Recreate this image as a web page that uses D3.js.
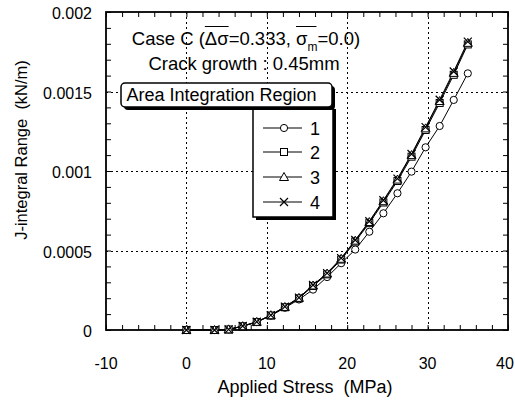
<!DOCTYPE html>
<html><head><meta charset="utf-8">
<script src="https://cdn.jsdelivr.net/npm/d3@7"></script>
<style>
body{margin:0;background:#fff}
svg text{font-family:"Liberation Sans",Arial,sans-serif;fill:#000;white-space:pre}
</style>
</head><body>
<svg id="chart" width="515" height="406"></svg>
<script>
// ---- data ----
const stress = [0, 3.5, 5.25, 7, 8.75, 10.5, 12.25, 14, 15.75, 17.5, 19.25, 21, 22.75, 24.5, 26.25, 28, 29.75, 31.5, 33.25, 35];
const region1 = [0, 0, 0.000004, 0.000024, 0.00005, 0.00009, 0.00014, 0.000192, 0.000254, 0.000333, 0.00042, 0.000506, 0.000618, 0.000734, 0.00086, 0.000996, 0.001149, 0.001283, 0.001447, 0.001614];
const region2 = [0, 0, 0.000003, 0.000023, 0.00005, 0.000091, 0.000143, 0.000199, 0.000277, 0.00035, 0.000443, 0.000556, 0.000672, 0.000802, 0.000937, 0.00109, 0.001258, 0.001428, 0.001605, 0.001796];
const region3 = [0, 0, 0.000004, 0.000024, 0.000051, 0.000093, 0.000145, 0.000202, 0.00028, 0.000355, 0.000448, 0.000562, 0.000679, 0.00081, 0.000946, 0.0011, 0.001268, 0.00144, 0.001617, 0.001806];
const region4 = [0, 0, 0.000004, 0.000025, 0.000052, 0.000094, 0.000147, 0.000204, 0.000283, 0.000358, 0.000452, 0.000566, 0.000684, 0.000816, 0.000952, 0.001107, 0.001276, 0.001448, 0.001626, 0.001814];
const legendLabels = ["1", "2", "3", "4"];
const markerTypes = ["circle", "square", "triangle", "cross"];
const xTickValues = [-10, 0, 10, 20, 30, 40];
const xTickLabels = ["-10", "0", "10", "20", "30", "40"];
const yTickValues = [0, 0.0005, 0.001, 0.0015, 0.002];
const yTickLabels = ["0", "0.0005", "0.001", "0.0015", "0.002"];
const xGrid = [0, 10, 20, 30];
const yGrid = [0.0005, 0.001, 0.0015];
const xLabel = "Applied Stress  (MPa)";
const yLabel = "J-integral Range  (kN/m)";
const legendTitle = "Area Integration Region";
const subtitle = "Crack growth : 0.45mm";

const seriesList = [region1, region2, region3, region4];

// ---- layout ----
const L = 106, R = 508, T = 12, B = 330;
const svg = d3.select("#chart");
const x = d3.scaleLinear().domain([-10, 40]).range([L, R]);
const y = d3.scaleLinear().domain([0, 0.002]).range([B, T]);

// grid
const grid = svg.append("g").attr("stroke", "#000").attr("stroke-width", 1).attr("stroke-dasharray", "2,3");
grid.selectAll(".gx").data(xGrid).enter().append("line")
  .attr("x1", d => Math.round(x(d)) + 0.5).attr("x2", d => Math.round(x(d)) + 0.5).attr("y1", T).attr("y2", B);
grid.selectAll(".gy").data(yGrid).enter().append("line")
  .attr("y1", d => Math.round(y(d)) + 0.5).attr("y2", d => Math.round(y(d)) + 0.5).attr("x1", L).attr("x2", R);

// minor/major ticks via axes (inside)
const xMinor = d3.range(-10, 40.001, 2);
const yMinor = d3.range(0, 0.0020001, 0.0001);
function tickAxis(axis, tr) {
  const g = svg.append("g").attr("transform", tr).call(axis);
  g.select(".domain").remove();
  g.selectAll("line").attr("stroke", "#000").attr("stroke-width", 1);
  g.selectAll("text").remove();
}
tickAxis(d3.axisBottom(x).tickValues(xMinor).tickSize(-5).tickFormat(""), `translate(0,${B})`);
tickAxis(d3.axisTop(x).tickValues(xMinor).tickSize(-5).tickFormat(""), `translate(0,${T})`);
tickAxis(d3.axisLeft(y).tickValues(yMinor).tickSize(-5).tickFormat(""), `translate(${L},0)`);
tickAxis(d3.axisRight(y).tickValues(yMinor).tickSize(-5).tickFormat(""), `translate(${R},0)`);

// frame
svg.append("rect").attr("x", L).attr("y", T).attr("width", R - L).attr("height", B - T)
  .attr("fill", "none").attr("stroke", "#000").attr("stroke-width", 1.8);

// tick labels
svg.append("g").selectAll("text").data(xTickValues).enter().append("text")
  .attr("x", d => Math.min(x(d), 505)).attr("y", 369).attr("text-anchor", "middle")
  .attr("font-size", 16).text((d, i) => xTickLabels[i]);
svg.append("g").selectAll("text").data(yTickValues).enter().append("text")
  .attr("x", 92).attr("y", d => y(d) + 7).attr("text-anchor", "end")
  .attr("font-size", 16).text((d, i) => yTickLabels[i]);

// axis titles
svg.append("text").attr("x", 305).attr("y", 393).attr("text-anchor", "middle")
  .attr("font-size", 18).text(xLabel);
svg.append("text").attr("transform", "translate(27,150) rotate(-90)").attr("text-anchor", "middle")
  .attr("font-size", 16.5).text(yLabel);

// series lines
const line = d3.line().x((d, i) => x(stress[i])).y(d => y(d));
seriesList.forEach((s) => {
  svg.append("path").datum(s).attr("d", line).attr("fill", "none")
    .attr("stroke", "#000").attr("stroke-width", 1);
});

// markers
function drawMarker(g, type, cx, cy) {
  if (type === "circle") {
    g.append("circle").attr("cx", cx).attr("cy", cy).attr("r", 3.6)
      .attr("fill", "#fff").attr("stroke", "#000").attr("stroke-width", 1);
  } else if (type === "square") {
    g.append("rect").attr("x", cx - 3.5).attr("y", cy - 3.5).attr("width", 7).attr("height", 7)
      .attr("fill", "#fff").attr("stroke", "#000").attr("stroke-width", 1);
  } else if (type === "triangle") {
    g.append("path").attr("d", `M${cx},${cy - 4.5}L${cx + 4.5},${cy + 3.5}L${cx - 4.5},${cy + 3.5}Z`)
      .attr("fill", "#fff").attr("stroke", "#000").attr("stroke-width", 1);
  } else {
    g.append("path").attr("d", `M${cx - 4},${cy - 4}L${cx + 4},${cy + 4}M${cx - 4},${cy + 4}L${cx + 4},${cy - 4}`)
      .attr("fill", "none").attr("stroke", "#000").attr("stroke-width", 1.2);
  }
}
seriesList.forEach((s, k) => {
  const g = svg.append("g");
  s.forEach((v, i) => drawMarker(g, markerTypes[k], x(stress[i]), y(v)));
});

// title texts
function richText(parts, cx, baseline) {
  const g = svg.append("g");
  let cursor = 0;
  const items = [];
  parts.forEach(p => {
    const t = g.append("text").attr("x", cursor).attr("y", baseline + (p.dy || 0))
      .attr("font-size", p.size || 18.5).text(p.t);
    const w = t.node().getComputedTextLength();
    items.push({p, x0: cursor, w});
    cursor += w;
  });
  const offset = cx - cursor / 2;
  g.attr("transform", `translate(${offset},0)`);
  items.forEach(it => {
    if (it.p.over) {
      g.append("line").attr("x1", it.x0).attr("x2", it.x0 + it.w + (it.p.extra || 0))
        .attr("y1", baseline - 18.5).attr("y2", baseline - 18.5)
        .attr("stroke", "#000").attr("stroke-width", 1);
    }
  });
}
richText([
  {t: "Case C ("},
  {t: "\u0394\u03c3", over: true},
  {t: "=0.333, "},
  {t: "\u03c3", over: true, extra: 9},
  {t: "m", size: 12, dy: 6},
  {t: "=0.0)"}
], 246, 45);
svg.append("text").attr("x", 244).attr("y", 70).attr("text-anchor", "middle")
  .attr("font-size", 18.5).text(subtitle);

// legend body
const lgX = 253, lgY = 106, lgW = 80, lgH = 111;
svg.append("rect").attr("x", lgX + 3).attr("y", lgY + 3).attr("width", lgW).attr("height", lgH).attr("fill", "#000");
svg.append("rect").attr("x", lgX).attr("y", lgY).attr("width", lgW).attr("height", lgH)
  .attr("fill", "#fff").attr("stroke", "#000").attr("stroke-width", 1.5);
const rowY = [128, 152, 177, 202];
legendLabels.forEach((lab, k) => {
  const g = svg.append("g");
  g.append("line").attr("x1", 263).attr("x2", 302).attr("y1", rowY[k]).attr("y2", rowY[k])
    .attr("stroke", "#000").attr("stroke-width", 1);
  drawMarker(g, markerTypes[k], 284, rowY[k]);
  g.append("text").attr("x", 310).attr("y", rowY[k] + 6.5).attr("font-size", 18).text(lab);
});

// legend title box
const tbX = 121, tbY = 83, tbW = 211, tbH = 24;
svg.append("rect").attr("x", tbX + 3).attr("y", tbY + 3).attr("width", tbW).attr("height", tbH)
  .attr("rx", 4).attr("fill", "#000");
svg.append("rect").attr("x", tbX).attr("y", tbY).attr("width", tbW).attr("height", tbH)
  .attr("rx", 4).attr("fill", "#fff").attr("stroke", "#000").attr("stroke-width", 1.5);
svg.append("text").attr("x", tbX + tbW / 2 - 5).attr("y", tbY + 18).attr("text-anchor", "middle")
  .attr("font-size", 18).text(legendTitle);
</script>
</body></html>
